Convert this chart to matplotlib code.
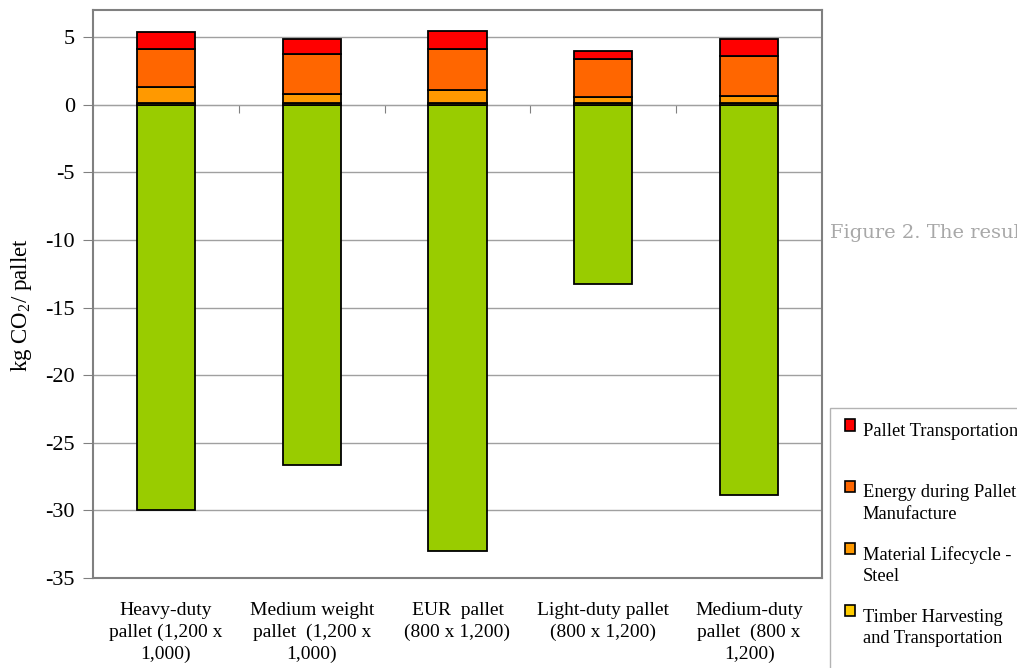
import numpy as np
import matplotlib
matplotlib.use('Agg')
import matplotlib.pyplot as plt
from matplotlib.patches import Rectangle
from matplotlib.legend_handler import HandlerPatch

plt.rcParams['font.family'] = ['Liberation Serif', 'DejaVu Serif']
plt.rcParams['mathtext.fontset'] = 'custom'
plt.rcParams['mathtext.rm'] = 'Liberation Serif'
plt.rcParams['axes.unicode_minus'] = False

# Data (kg CO2 / pallet)
categories = ['Heavy-duty\npallet (1,200 x\n1,000)',
              'Medium weight\npallet  (1,200 x\n1,000)',
              'EUR  pallet\n(800 x 1,200)',
              'Light-duty pallet\n(800 x 1,200)',
              'Medium-duty\npallet  (800 x\n1,200)']
sequestration = [-29.95, -26.65, -33.0, -13.25, -28.85]
timber = [0.10, 0.10, 0.10, 0.10, 0.10]
steel = [1.17, 0.70, 1.02, 0.45, 0.55]
energy = [2.88, 2.93, 2.96, 2.81, 2.96]
transport = [1.23, 1.16, 1.40, 0.59, 1.28]

# the last entry sits below the visible part of the legend
series_labels = ['Pallet Transportation\n', 'Energy during Pallet\nManufacture',
                 'Material Lifecycle -\nSteel', 'Timber Harvesting\nand Transportation',
                 '\nCarbon Sequestration\n']
colors = {'transport': '#FF0000', 'energy': '#FF6600', 'steel': '#FF9900',
          'timber': '#FFCC00', 'seq': '#99CC00'}

fig = plt.figure(figsize=(10.17, 6.68), dpi=100)
ax = fig.add_axes([93 / 1017, 1 - 578 / 668, (822 - 93) / 1017, (578 - 10) / 668])

x = np.arange(len(categories))
w = 0.4
kw = dict(width=w, edgecolor='black', linewidth=1.3, zorder=3)

b_seq = ax.bar(x, sequestration, color=colors['seq'], **kw)
bottom = np.zeros(len(x))
b_tim = ax.bar(x, timber, bottom=bottom, color=colors['timber'], **kw)
bottom += timber
b_ste = ax.bar(x, steel, bottom=bottom, color=colors['steel'], **kw)
bottom += steel
b_ene = ax.bar(x, energy, bottom=bottom, color=colors['energy'], **kw)
bottom += energy
b_tra = ax.bar(x, transport, bottom=bottom, color=colors['transport'], **kw)

ax.set_ylim(-35, 7)
ax.set_xlim(-0.5, len(x) - 0.5)
ax.set_yticks(np.arange(-35, 6, 5))
ax.yaxis.grid(True, color='#A0A0A0', linewidth=1, zorder=0)
ax.set_axisbelow(True)
for s in ax.spines.values():
    s.set_color('#808080')
    s.set_linewidth(1.5)
ax.tick_params(axis='y', direction='out', length=7, color='#808080', labelsize=16, pad=6)
ax.set_xticks(x)
ax.set_xticklabels(categories, fontsize=14, linespacing=1.38)
ax.tick_params(axis='x', length=0, pad=17)
ax.set_ylabel('kg CO$_2$/ pallet', fontsize=16.5, labelpad=8, y=0.48)

# category axis crossing at zero
sec = ax.secondary_xaxis(0, transform=ax.transData)
sec.set_xticks(np.arange(len(x) - 1) + 0.5)
sec.set_xticklabels([])
sec.tick_params(direction='out', length=6, color='#808080')
sec.spines['bottom'].set_color('#A0A0A0')


class TopSquare(HandlerPatch):
    def create_artists(self, legend, orig_handle, xdescent, ydescent,
                       width, height, fontsize, trans):
        p = Rectangle((0, height * 0.5 + fontsize * 0.66), width, height,
                      facecolor=orig_handle.get_facecolor(), edgecolor='black',
                      linewidth=1.2, transform=trans)
        return [p]


handles = [b_tra[0], b_ene[0], b_ste[0], b_tim[0], b_seq[0]]
leg = fig.legend(handles, series_labels, loc='upper left',
                 bbox_to_anchor=(830 / 1017, 1 - 408 / 668), bbox_transform=fig.transFigure,
                 prop={'size': 13.3}, frameon=True, fancybox=False, edgecolor='#A0A0A0',
                 handlelength=0.57, handleheight=0.57, handletextpad=0.4,
                 labelspacing=1.25, borderpad=0.8, borderaxespad=0,
                 handler_map={Rectangle: TopSquare()})
leg.get_frame().set_linewidth(1.0)
for t in leg.get_texts():
    t.set_linespacing(1.35)

fig.text(830 / 1017, 1 - 233 / 668, 'Figure 2. The results', fontsize=14,
         color='#A8A8A8', va='center', ha='left', family='DejaVu Serif')

fig.savefig('out.png', dpi=100)
